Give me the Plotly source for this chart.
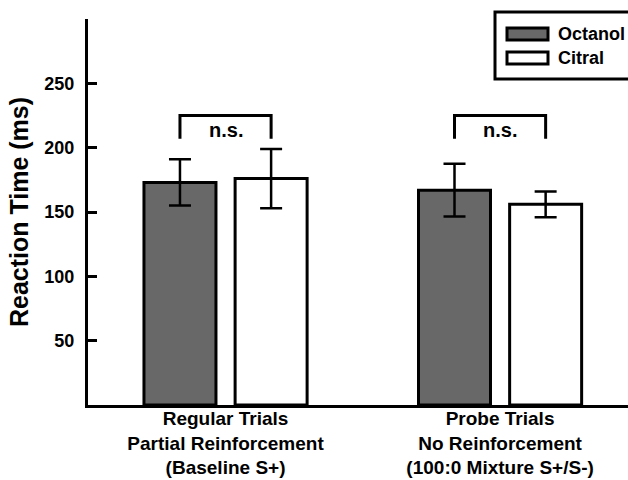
import plotly.graph_objects as go

# ---- data ----
categories = [
    "Regular Trials<br>Partial Reinforcement<br>(Baseline S+)",
    "Probe Trials<br>No Reinforcement<br>(100:0 Mixture S+/S-)",
]
series_names = ["Octanol", "Citral"]
octanol_mean = [173, 167]
octanol_err = [18, 20.5]
citral_mean = [176, 156]
citral_err = [23, 10]
y_tick_values = [50, 100, 150, 200, 250, 300]
y_tick_labels = ["50", "100", "150", "200", "250", ""]
comparison_labels = ["n.s.", "n.s."]

# ---- styling ----
W, H = 628, 480
M_L, M_R, M_T, M_B = 88, 0, 19, 75
FONT = "Liberation Sans, Arial, sans-serif"
DARK = "#686868"
BAR_GAP = 0.336
GROUP_GAP = 0.21
LINE_W = 3


def px_x(px):
    """Horizontal pixel position -> paper fraction."""
    return (px - M_L) / (W - M_L - M_R)


def px_y(py):
    """Vertical pixel position -> paper fraction."""
    return (H - M_B - py) / (H - M_T - M_B)


fig = go.Figure()
fills = [DARK, "white"]
means = [octanol_mean, citral_mean]
errs = [octanol_err, citral_err]
for name, fill, m, e in zip(series_names, fills, means, errs):
    fig.add_trace(go.Bar(
        name=name, x=categories, y=m,
        marker=dict(color=fill, line=dict(color="black", width=LINE_W)),
        error_y=dict(type="data", array=e, visible=True, color="black",
                     thickness=2.5, width=11),
        showlegend=False,
    ))

# significance brackets spanning the two bar centres in each group
slot = (1 - BAR_GAP) / 2
bracket_top, bracket_bottom, label_y = 225, 207, 214
for i, lab in enumerate(comparison_labels):
    x0, x1 = i - slot / 2, i + slot / 2
    fig.add_shape(type="path", xref="x", yref="y",
                  path=f"M {x0} {bracket_bottom} L {x0} {bracket_top} "
                       f"L {x1} {bracket_top} L {x1} {bracket_bottom}",
                  line=dict(color="black", width=LINE_W))
    fig.add_annotation(x=i, y=label_y, xref="x", yref="y", text=lab,
                       showarrow=False,
                       font=dict(family=FONT, size=20, color="black",
                                 weight="bold"))

# hand-built legend with wide swatches
fig.add_shape(type="rect", xref="paper", yref="paper",
              x0=px_x(495), x1=px_x(632), y0=px_y(79), y1=px_y(12),
              line=dict(color="black", width=LINE_W), fillcolor="white")
for k, (name, fill) in enumerate(zip(series_names, fills)):
    top = 28 + 24 * k
    fig.add_shape(type="rect", xref="paper", yref="paper",
                  x0=px_x(507), x1=px_x(548), y0=px_y(top + 12), y1=px_y(top),
                  line=dict(color="black", width=LINE_W), fillcolor=fill)
    fig.add_annotation(x=px_x(556), y=px_y(top + 6), xref="paper", yref="paper",
                       text=name, showarrow=False, xanchor="left",
                       yanchor="middle",
                       font=dict(family=FONT, size=18, color="black",
                                 weight="bold"))

fig.update_layout(
    width=W, height=H,
    margin=dict(l=M_L, r=M_R, t=M_T, b=M_B, pad=0),
    paper_bgcolor="white", plot_bgcolor="white",
    barmode="group", bargap=BAR_GAP, bargroupgap=GROUP_GAP,
    font=dict(family=FONT, color="black"),
)
fig.update_xaxes(
    range=[-0.501, 1.466], showline=True, linecolor="black",
    linewidth=LINE_W, ticks="", showgrid=False, zeroline=False,
    ticklabelstandoff=-6,
    tickfont=dict(family=FONT, size=19, color="black", weight="bold"),
)
fig.update_yaxes(
    range=[0, 300], showline=True, linecolor="black", linewidth=LINE_W,
    ticks="inside", ticklen=9, tickwidth=LINE_W, tickcolor="black",
    tickvals=y_tick_values, ticktext=y_tick_labels,
    showgrid=False, zeroline=False, ticklabelstandoff=7,
    tickfont=dict(family=FONT, size=18, color="black", weight="bold"),
    title=dict(text="Reaction Time (ms)", standoff=9,
               font=dict(family=FONT, size=25, color="black", weight="bold")),
)

fig.write_html("out.html")
